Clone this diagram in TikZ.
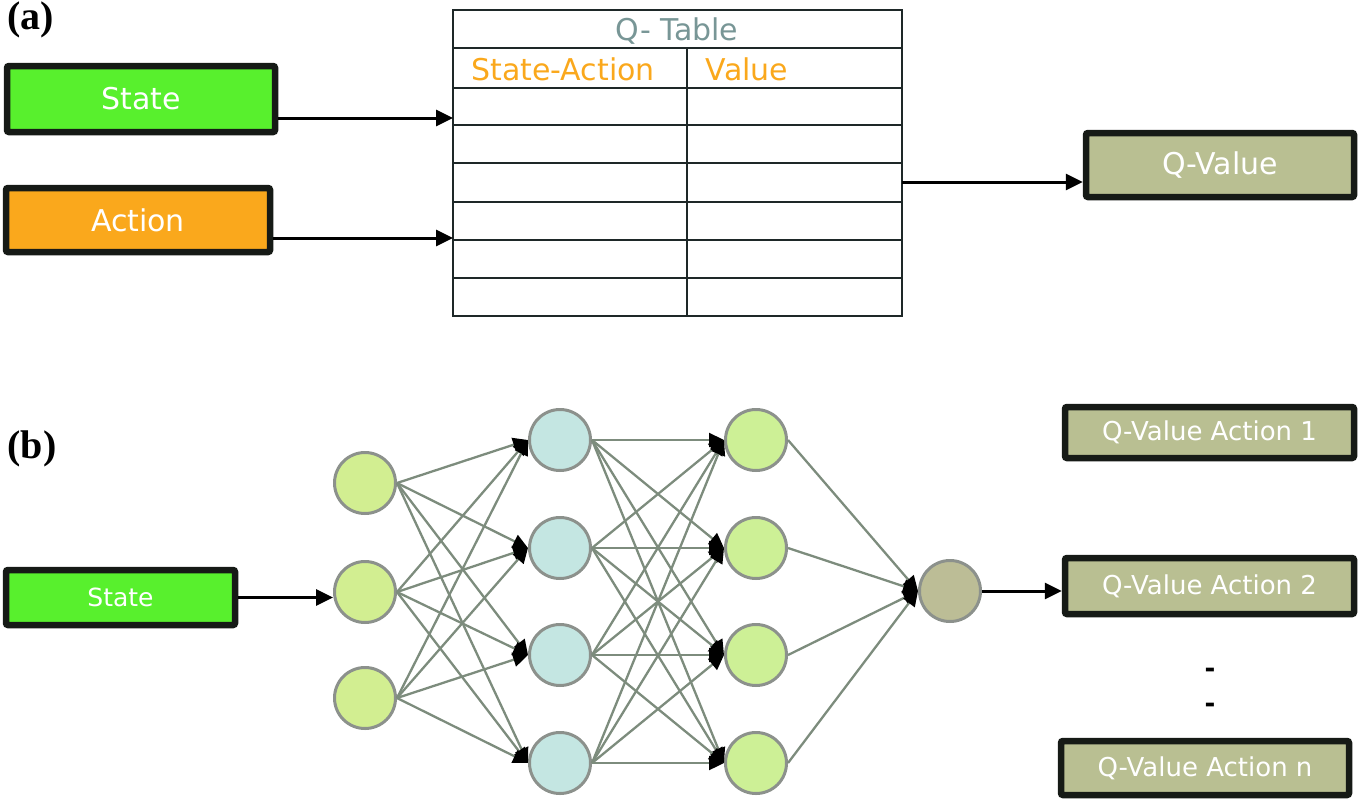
\documentclass[tikz,border=0pt]{standalone}
\usepackage{fontspec}
\setmainfont{DejaVu Sans}
\newfontfamily\serifbold{Liberation Serif}
\usetikzlibrary{arrows.meta}
\definecolor{stategreen}{RGB}{88,240,45}
\definecolor{actorange}{RGB}{250,168,28}
\definecolor{khaki}{RGB}{185,191,146}
\definecolor{boxline}{RGB}{22,26,22}
\definecolor{ninput}{RGB}{210,238,145}
\definecolor{nhidA}{RGB}{196,230,226}
\definecolor{nhidB}{RGB}{205,240,150}
\definecolor{nout}{RGB}{188,189,150}
\definecolor{ngray}{RGB}{140,145,140}
\definecolor{egray}{RGB}{125,140,125}
\definecolor{titlegray}{RGB}{120,150,150}
\definecolor{tline}{RGB}{30,40,40}
\begin{document}
\begin{tikzpicture}[x=1pt,y=-1pt,
  box/.style={draw=boxline, line width=6.5pt, rounded corners=2pt, inner sep=0pt,
    text=white, font=\fontsize{30}{36}\selectfont},
  smallbox/.style={box, font=\fontsize{25}{30}\selectfont},
  qbox/.style={box, fill=khaki, font=\fontsize{26}{31}\selectfont},
  neuron/.style={circle, draw=ngray, line width=3pt, minimum size=61pt, inner sep=0pt},
  edge/.style={draw=egray, line width=2.3pt, -{Triangle[length=15pt,width=14pt,color=black]}},
  arr/.style={draw=black, line width=3pt, -{Triangle[length=17pt,width=16pt]}},
  tl/.style={draw=tline, line width=2.2pt},
  panel/.style={font=\serifbold\bfseries\fontsize{40}{44}\selectfont, inner sep=0pt}
]
\useasboundingbox (0,0) rectangle (1358,801);

% ---------- (a) ----------
\node[panel] (la) at (31,20) {(a)};
\node[box, fill=stategreen, minimum width=268pt, minimum height=66pt] (stateA) at (141,99) {State};
\node[box, fill=actorange, minimum width=264pt, minimum height=64pt] (actA) at (138,220) {Action};

% Q-table
\node[tl, draw, minimum width=449pt, minimum height=306pt, inner sep=0pt] (qt) at (677.5,163) {};
\foreach \yy in {48,88,125,163,202,240,278} \draw[tl] (453,\yy) -- (902,\yy);
\draw[tl] (687,48) -- (687,316);
\node[text=titlegray, font=\fontsize{30}{36}\selectfont] (qtt) at (677,31) {Q- Table};
\node[text=actorange, font=\fontsize{30}{36}\selectfont] (hsa) at (563,69) {State-Action};
\node[text=actorange, font=\fontsize{30}{36}\selectfont] (hv) at (747,69) {Value};

\coordinate (sIn) at (453,118);
\coordinate (aIn) at (453,238);
\coordinate (qOut) at (902,182);
\node[box, fill=khaki, minimum width=268pt, minimum height=64pt] (qv) at (1220,165) {Q-Value};

\draw[arr] (stateA.east |- sIn) -- (sIn);
\draw[arr] (actA.east |- aIn) -- (aIn);
\draw[arr] (qOut) -- (qOut -| qv.west);

% ---------- (b) ----------
\node[panel] (lb) at (32,449) {(b)};
\node[smallbox, fill=stategreen, minimum width=229pt, minimum height=55pt] (stateB) at (120.5,597.5) {State};

\node[neuron, fill=ninput] (in1) at (365,483) {};
\node[neuron, fill=ninput] (in2) at (365,592) {};
\node[neuron, fill=ninput] (in3) at (365,698) {};
\foreach \j/\yy in {1/440,2/548,3/655,4/763}{
  \node[neuron, fill=nhidA] (ha\j) at (560,\yy) {};
  \node[neuron, fill=nhidB] (hb\j) at (756,\yy) {};
}
\node[neuron, fill=nout] (out) at (950,591) {};

\foreach \i in {1,2,3} \foreach \j in {1,...,4} \draw[edge] (in\i.east) -- (ha\j.west);
\foreach \i in {1,...,4} \foreach \j in {1,...,4} \draw[edge] (ha\i.east) -- (hb\j.west);
\foreach \i in {1,...,4} \draw[edge] (hb\i.east) -- (out.west);

\draw[arr] (stateB.east) -- (stateB.east -| in2.west);

\node[qbox, minimum width=289pt, minimum height=51pt] (qa1) at (1209.5,432.5) {Q-Value Action 1};
\node[qbox, minimum width=289pt, minimum height=56pt] (qa2) at (1209.5,586) {Q-Value Action 2};
\node[qbox, minimum width=288pt, minimum height=54pt] (qan) at (1205,768) {Q-Value Action n};
\draw[arr] (out.east) -- (out.east -| qa2.west);

\node[font=\bfseries\fontsize{26}{30}\selectfont] (dot1) at (1210,673) {-};
\node[font=\bfseries\fontsize{26}{30}\selectfont] (dot2) at (1210,708) {-};
\end{tikzpicture}
\end{document}
